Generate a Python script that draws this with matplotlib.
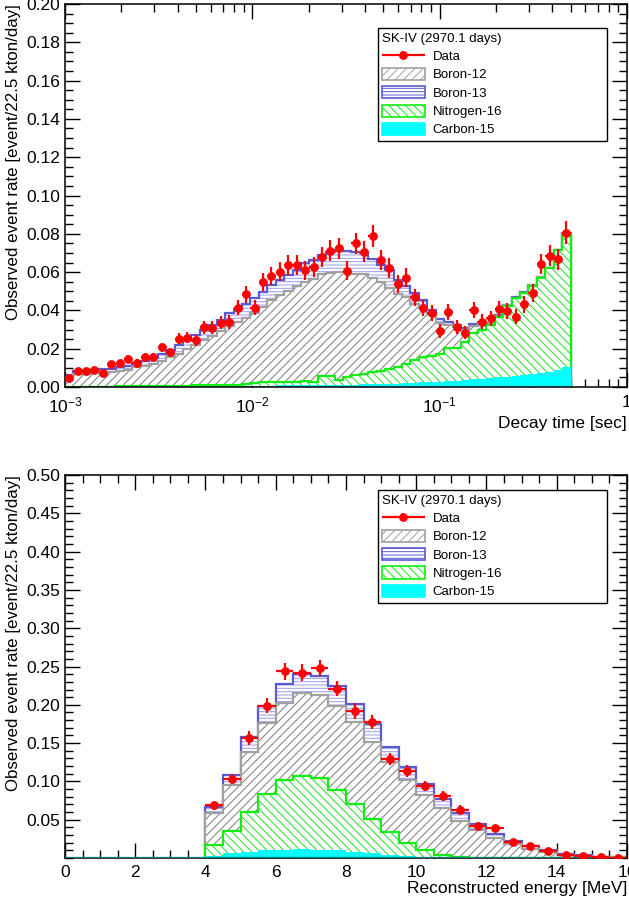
import numpy as np
import matplotlib
matplotlib.use("Agg")
import matplotlib.pyplot as plt
from matplotlib.patches import Patch
from matplotlib.legend_handler import HandlerErrorbar
from matplotlib.ticker import MultipleLocator, FixedLocator, LogLocator, NullFormatter

plt.rcParams['font.family'] = ['Liberation Sans', 'DejaVu Sans']
plt.rcParams['mathtext.default'] = 'regular'
plt.rcParams['hatch.linewidth'] = 0.7

# ---- decay time spectrum: 60 log bins, 1 ms .. 0.5 s  [event/22.5 kton/day]
t_range = (1e-3, 0.5)
t_c15 = [0.0001, 0.0001, 0.0001, 0.0001, 0.0001, 0.0001, 0.0001, 0.0001, 0.0001, 0.0001,
         0.0002, 0.0002, 0.0002, 0.0002, 0.0002, 0.0003, 0.0003, 0.0003, 0.0003, 0.0003,
         0.0005, 0.0005, 0.0005, 0.0005, 0.0005, 0.0008, 0.0008, 0.0008, 0.0008, 0.0008,
         0.0011, 0.0011, 0.0011, 0.0011, 0.0011, 0.0015, 0.0015, 0.0015, 0.0015, 0.0015,
         0.0020, 0.0022, 0.0024, 0.0026, 0.0028, 0.0030, 0.0033, 0.0036, 0.0040, 0.0043,
         0.0046, 0.0050, 0.0054, 0.0058, 0.0063, 0.0068, 0.0074, 0.0081, 0.0090, 0.0105]
t_n16 = [0.0001, 0.0001, 0.0001, 0.0001, 0.0001, 0.0001, 0.0002, 0.0002, 0.0002, 0.0002,
         0.0001, 0.0003, 0.0003, 0.0003, 0.0003, 0.0005, 0.0005, 0.0005, 0.0005, 0.0007,
         0.0007, 0.0010, 0.0015, 0.0023, 0.0022, 0.0020, 0.0020, 0.0016, 0.0025, 0.0019,
         0.0047, 0.0045, 0.0026, 0.0041, 0.0051, 0.0055, 0.0061, 0.0067, 0.0077, 0.0090,
         0.0100, 0.0119, 0.0134, 0.0137, 0.0144, 0.0172, 0.0172, 0.0201, 0.0240, 0.0257,
         0.0278, 0.0317, 0.0369, 0.0405, 0.0427, 0.0462, 0.0496, 0.0539, 0.0625, 0.0695]
t_b12 = [0.0048, 0.0064, 0.0067, 0.0069, 0.0073, 0.0077, 0.0082, 0.0087, 0.0099, 0.0109,
         0.0119, 0.0133, 0.0150, 0.0170, 0.0191, 0.0210, 0.0237, 0.0260, 0.0282, 0.0308,
         0.0328, 0.0347, 0.0368, 0.0392, 0.0428, 0.0450, 0.0472, 0.0501, 0.0517, 0.0538,
         0.0530, 0.0538, 0.0562, 0.0547, 0.0530, 0.0520, 0.0491, 0.0468, 0.0423, 0.0381,
         0.0350, 0.0292, 0.0253, 0.0213, 0.0161, 0.0122, 0.0110, 0.0063, 0.0040, 0.0028,
         0.0008, 0.0006, 0.0005, 0.0004, 0.0003, 0.0003, 0.0002, 0.0002, 0.0001, 0.0001]
t_b13 = [0.0013, 0.0016, 0.0016, 0.0016, 0.0017, 0.0017, 0.0019, 0.0020, 0.0023, 0.0026,
         0.0028, 0.0034, 0.0040, 0.0045, 0.0049, 0.0052, 0.0053, 0.0056, 0.0060, 0.0067,
         0.0066, 0.0070, 0.0075, 0.0078, 0.0078, 0.0081, 0.0085, 0.0086, 0.0096, 0.0098,
         0.0102, 0.0113, 0.0116, 0.0113, 0.0113, 0.0108, 0.0100, 0.0087, 0.0095, 0.0073,
         0.0057, 0.0056, 0.0043, 0.0026, 0.0020, 0.0016, 0.0010, 0.0010, 0.0010, 0.0010,
         0.0002, 0.0002, 0.0001, 0.0001, 0.0001, 0.0001, 0.0001, 0.0001, 0.0001, 0.0001]
t_data = [0.0045, 0.0084, 0.0084, 0.0087, 0.0073, 0.0120, 0.0124, 0.0146, 0.0125, 0.0157,
          0.0158, 0.0207, 0.0181, 0.0252, 0.0258, 0.0245, 0.0312, 0.0310, 0.0336, 0.0340,
          0.0414, 0.0484, 0.0414, 0.0550, 0.0580, 0.0602, 0.0637, 0.0637, 0.0610, 0.0628,
          0.0680, 0.0712, 0.0724, 0.0607, 0.0750, 0.0707, 0.0790, 0.0663, 0.0623, 0.0538,
          0.0571, 0.0468, 0.0414, 0.0388, 0.0294, 0.0393, 0.0315, 0.0284, 0.0402, 0.0341,
          0.0359, 0.0406, 0.0397, 0.0367, 0.0432, 0.0489, 0.0642, 0.0686, 0.0668, 0.0806]
t_err = [0.0010, 0.0013, 0.0013, 0.0014, 0.0014, 0.0017, 0.0018, 0.0019, 0.0019, 0.0021,
         0.0022, 0.0025, 0.0024, 0.0028, 0.0029, 0.0029, 0.0033, 0.0033, 0.0035, 0.0036,
         0.0040, 0.0043, 0.0040, 0.0046, 0.0048, 0.0049, 0.0050, 0.0051, 0.0050, 0.0051,
         0.0053, 0.0054, 0.0055, 0.0050, 0.0056, 0.0054, 0.0058, 0.0053, 0.0052, 0.0048,
         0.0050, 0.0045, 0.0042, 0.0041, 0.0036, 0.0042, 0.0037, 0.0035, 0.0042, 0.0039,
         0.0040, 0.0042, 0.0042, 0.0040, 0.0044, 0.0047, 0.0054, 0.0056, 0.0055, 0.0060]

# ---- energy spectrum: 0.5 MeV bins, 4 .. 16 MeV
e_range = (4.0, 16.0)
e_c15 = [0.003, 0.006, 0.008, 0.010, 0.011, 0.012, 0.011, 0.010, 0.008, 0.006, 0.004, 0.003,
         0.002, 0.001, 0.0005, 0.0003, 0.0001, 0, 0, 0, 0, 0, 0, 0]
e_n16 = [0.0144, 0.0297, 0.052, 0.0736, 0.091, 0.095, 0.093, 0.079, 0.062, 0.045, 0.0295, 0.017,
         0.0084, 0.003, 0.0005, 0, 0, 0, 0, 0, 0, 0, 0, 0]
e_b12 = [0.0416, 0.0593, 0.079, 0.0924, 0.101, 0.108, 0.109, 0.110, 0.107, 0.101, 0.0925, 0.082,
         0.0716, 0.0617, 0.0477, 0.0363, 0.0256, 0.018, 0.0117, 0.0074, 0.0035, 0.0025, 0.0015, 0.0008]
e_b13 = [0.008, 0.014, 0.019, 0.022, 0.024, 0.025, 0.025, 0.025, 0.024, 0.0225, 0.0185, 0.017,
         0.0145, 0.0113, 0.0103, 0.0078, 0.0063, 0.0046, 0.0043, 0.003, 0.0015, 0.001, 0.0005, 0.0002]
e_data = [0.069, 0.103, 0.157, 0.199, 0.244, 0.242, 0.248, 0.221, 0.192, 0.178, 0.129, 0.114,
          0.094, 0.081, 0.063, 0.042, 0.039, 0.021, 0.016, 0.009, 0.004, 0.0026, 0.001, 0.0007]
e_err = [0.006, 0.007, 0.009, 0.010, 0.011, 0.011, 0.011, 0.010, 0.010, 0.009, 0.008, 0.008,
         0.007, 0.006, 0.006, 0.005, 0.004, 0.003, 0.003, 0.002, 0.0015, 0.001, 0.001, 0.0005]

title = "SK-IV (2970.1 days)"
ylabel = "Observed event rate [event/22.5 kton/day]"

# line colour, hatch colour, hatch pattern
styles = {
    'Carbon-15': ('#00ffff', '#00ffff', None),
    'Nitrogen-16': ('#11ee11', '#22dd22', '\\\\\\\\'),
    'Boron-12': ('#a0a0a0', '#7a7a7a', '////'),
    'Boron-13': ('#5a5ad6', '#9c9cee', '-----'),
}
order = ['Carbon-15', 'Nitrogen-16', 'Boron-12', 'Boron-13']


def draw_stack(ax, edges, comps):
    levels = np.cumsum([np.asarray(c, float) for c in comps], axis=0)
    # biggest sum first, each lower layer paints over it
    for name, lev in reversed(list(zip(order, levels))):
        line, hcol, hatch = styles[name]
        if hatch is None:
            ax.stairs(lev, edges, baseline=0, fill=True, facecolor=line, lw=0, zorder=2)
            continue
        ax.stairs(lev, edges, baseline=0, fill=True, facecolor='white', edgecolor=hcol,
                  hatch=hatch, lw=0, zorder=2)
        ax.stairs(lev, edges, baseline=0, fill=False, color=line, lw=1.6, zorder=2)


def draw_data(ax, x, xerr, y, yerr):
    return ax.errorbar(x, y, xerr=xerr, yerr=yerr, fmt='o', color='red', ms=5.3,
                       elinewidth=1.6, capsize=0, zorder=5, label='Data')


def add_legend(ax, data_handle, top):
    handles = [data_handle]
    for name in ['Boron-12', 'Boron-13', 'Nitrogen-16', 'Carbon-15']:
        line, hcol, hatch = styles[name]
        if hatch is None:
            handles.append(Patch(facecolor=line, edgecolor=line, lw=1.2, label=name))
        else:
            handles.append(Patch(facecolor='white', edgecolor=line, hatch=hatch, lw=1.2, label=name))
    leg = ax.legend(handles=handles, loc='upper left', bbox_to_anchor=(0.5564, top, 0.4089, 0),
                    mode='expand', borderaxespad=0, title=title, title_fontsize=9.5, fontsize=9.5,
                    alignment='left', frameon=True, fancybox=False, edgecolor='black',
                    framealpha=1, handlelength=3.2, handleheight=1.05, labelspacing=0.36,
                    handletextpad=0.6, borderpad=0.35,
                    handler_map={type(data_handle): HandlerErrorbar(xerr_size=1.6, yerr_size=0.3)})
    leg.get_frame().set_linewidth(1.0)
    leg.set_zorder(10)


def style_axes(ax):
    ax.tick_params(which='both', direction='in', top=True, right=True, labelsize=12.5, width=1.0)
    ax.tick_params(which='major', length=11)
    ax.tick_params(which='minor', length=5.5)
    for sp in ax.spines.values():
        sp.set_linewidth(1.1)
    ax.set_ylabel(ylabel, fontsize=12.2, loc='top')


fig = plt.figure(figsize=(6.29, 9.10), dpi=100)

# decay time panel
ax1 = fig.add_axes([0.1033, 0.5747, 0.8935, 0.4209])
t_edges = np.geomspace(t_range[0], t_range[1], len(t_data) + 1)
t_x = np.sqrt(t_edges[:-1] * t_edges[1:])
draw_stack(ax1, t_edges, [t_c15, t_n16, t_b12, t_b13])
h1 = draw_data(ax1, t_x, [t_x - t_edges[:-1], t_edges[1:] - t_x], t_data, t_err)
ax1.set_xscale('log')
ax1.set_xlim(1e-3, 1)
ax1.set_ylim(0, 0.2)
ax1.xaxis.set_major_locator(FixedLocator([1e-3, 1e-2, 1e-1, 1]))
ax1.set_xticklabels(['$10^{-3}$', '$10^{-2}$', '$10^{-1}$', '1'])
ax1.xaxis.set_minor_locator(LogLocator(base=10, subs=np.arange(2, 10)))
ax1.xaxis.set_minor_formatter(NullFormatter())
ax1.yaxis.set_major_locator(MultipleLocator(0.02))
ax1.yaxis.set_minor_locator(MultipleLocator(0.005))
ax1.yaxis.set_major_formatter(lambda v, p: f"{v:.2f}")
style_axes(ax1)
ax1.tick_params(axis='x', which='major', pad=6)
ax1.set_xlabel("Decay time [sec]", fontsize=12.5, loc='right')
ax1.xaxis.set_label_coords(1.0, -0.076)
add_legend(ax1, h1, 0.9373)

# energy panel
ax2 = fig.add_axes([0.1033, 0.0571, 0.8935, 0.4209])
e_edges = np.linspace(e_range[0], e_range[1], len(e_data) + 1)
e_x = 0.5 * (e_edges[:-1] + e_edges[1:])
draw_stack(ax2, e_edges, [e_c15, e_n16, e_b12, e_b13])
ax2.axhline(0, color='#007f7f', lw=1.6, zorder=3)
h2 = draw_data(ax2, e_x, 0.5 * np.diff(e_edges), e_data, e_err)
ax2.set_xlim(0, 16)
ax2.set_ylim(0, 0.5)
ax2.xaxis.set_major_locator(MultipleLocator(2))
ax2.xaxis.set_minor_locator(MultipleLocator(0.5))
ax2.yaxis.set_major_locator(FixedLocator(np.arange(1, 11) * 0.05))
ax2.yaxis.set_minor_locator(MultipleLocator(0.01))
ax2.yaxis.set_major_formatter(lambda v, p: f"{v:.2f}")
style_axes(ax2)
ax2.tick_params(axis='x', which='major', pad=5)
ax2.set_xlabel("Reconstructed energy [MeV]", fontsize=12.5, loc='right')
ax2.xaxis.set_label_coords(1.0, -0.06)
add_legend(ax2, h2, 0.961)

fig.savefig('out.png', dpi=100)
